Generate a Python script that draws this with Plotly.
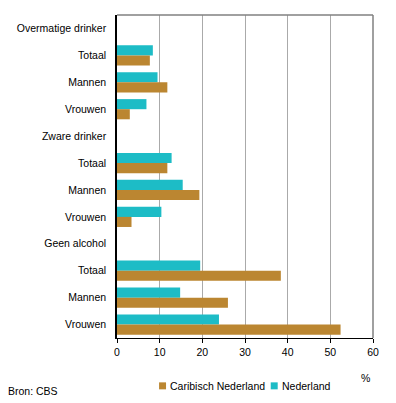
import plotly.graph_objects as go

labels = ["Overmatige drinker", "Totaal", "Mannen", "Vrouwen",
          "Zware drinker", "Totaal", "Mannen", "Vrouwen",
          "Geen alcohol", "Totaal", "Mannen", "Vrouwen"]
nederland = [None, 8.4, 9.5, 6.9, None, 12.8, 15.4, 10.4, None, 19.5, 14.8, 23.9]
caribisch = [None, 7.7, 11.8, 3.0, None, 11.8, 19.3, 3.4, None, 38.4, 26.0, 52.4]
x_ticks = [0, 10, 20, 30, 40, 50, 60]
legend_names = ["Caribisch Nederland", "Nederland"]

TEAL = "#1DBCC6"
BROWN = "#BB8631"
FONT = "Liberation Sans, Arial, sans-serif"
FS = 10.5

# page body has an 8px default margin; work in window pixels and shift
OFF = 8
WIN_W, WIN_H = 396, 403
W, H = WIN_W - OFF, WIN_H - OFF
PL, PR, PT, PB = 116.5, 373.3, 15, 338.3   # plot area in window pixels
ML = PL - OFF
MR = WIN_W - PR
MT = PT - OFF
MB = WIN_H - PB
plot_w = PR - PL
plot_h = PB - PT


def px(xw):
    return (xw - PL) / plot_w


def py(yw):
    return (PB - yw) / plot_h


pos = list(range(len(labels)))

fig = go.Figure()
fig.add_trace(go.Bar(y=pos, x=nederland, orientation="h", name=legend_names[1],
                     marker=dict(color=TEAL, line=dict(width=0)), showlegend=False))
fig.add_trace(go.Bar(y=pos, x=caribisch, orientation="h", name=legend_names[0],
                     marker=dict(color=BROWN, line=dict(width=0)), showlegend=False))

shapes = [
    dict(type="line", xref="paper", yref="paper", x0=0, x1=1, y0=1, y1=1,
         line=dict(color="#808080", width=1.5)),
    dict(type="line", xref="paper", yref="paper", x0=1, x1=1, y0=0, y1=1,
         line=dict(color="#808080", width=1.5)),
    # legend swatches
    dict(type="rect", xref="paper", yref="paper", x0=px(158.7), x1=px(165.7),
         y0=py(389.7), y1=py(382.7), fillcolor=BROWN, line=dict(width=0)),
    dict(type="rect", xref="paper", yref="paper", x0=px(270.7), x1=px(277.7),
         y0=py(389.7), y1=py(382.7), fillcolor=TEAL, line=dict(width=0)),
]

annotations = [
    dict(text="%", xref="paper", yref="paper", x=px(366), y=py(378), showarrow=False,
         xanchor="center", yanchor="middle", font=dict(size=FS)),
    dict(text="Bron: CBS", xref="paper", yref="paper", x=px(5), y=py(391), showarrow=False,
         xanchor="left", yanchor="middle", font=dict(size=FS)),
    dict(text=legend_names[0], xref="paper", yref="paper", x=px(168), y=py(386),
         showarrow=False, xanchor="left", yanchor="middle", font=dict(size=FS)),
    dict(text=legend_names[1], xref="paper", yref="paper", x=px(280), y=py(386),
         showarrow=False, xanchor="left", yanchor="middle", font=dict(size=FS)),
]

fig.update_layout(
    width=W, height=H,
    margin=dict(l=ML, r=MR, t=MT, b=MB, pad=0),
    paper_bgcolor="white", plot_bgcolor="white",
    font=dict(family=FONT, size=FS, color="black"),
    barmode="group", bargap=0.25, bargroupgap=0,
    showlegend=False,
    xaxis=dict(range=[0, 60], tickvals=x_ticks, ticks="outside", ticklen=4,
               tickcolor="black", showline=True, linecolor="black", linewidth=1,
               showgrid=True, gridcolor="#aaaaaa", gridwidth=1, zeroline=False,
               fixedrange=True, automargin=False),
    yaxis=dict(range=[11.5, -0.5], tickvals=pos, ticktext=labels,
               ticks="outside", ticklen=7, tickcolor="white",
               showline=True, linecolor="black", linewidth=1.5,
               showgrid=False, zeroline=False, fixedrange=True, automargin=False),
    shapes=shapes,
    annotations=annotations,
)

fig.write_html("out.html")
